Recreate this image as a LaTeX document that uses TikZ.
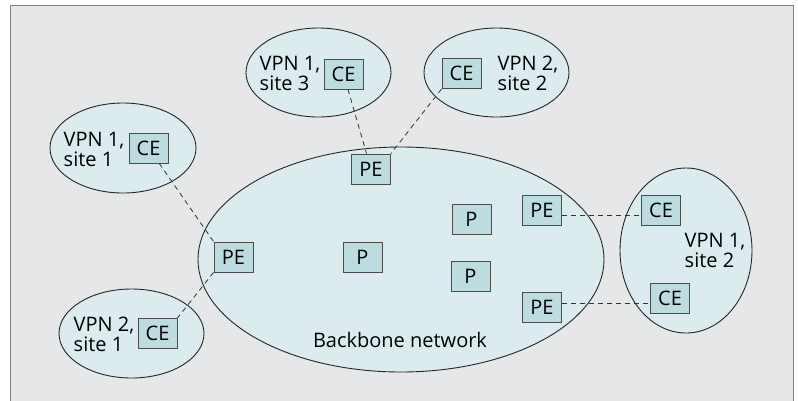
\documentclass[tikz,border=0pt]{standalone}
\usepackage{fontspec}
\setmainfont{Open Sans}
\usetikzlibrary{shapes.geometric, calc}

\definecolor{framegray}{HTML}{E6E7E8}
\definecolor{sitefill}{HTML}{DCEBEE}
\definecolor{boxfill}{HTML}{BCDCDF}

\begin{document}
\begin{tikzpicture}[x=1pt, y=-1pt,
    site/.style={ellipse, draw=black!85, line width=0.9pt, fill=sitefill, inner sep=0pt},
    dev/.style={draw=black!70, line width=0.8pt, fill=boxfill, minimum width=39pt,
                minimum height=30pt, inner sep=0pt, font=\fontsize{20}{20}\selectfont},
    lbl/.style={align=left, inner sep=0pt, font=\fontsize{20}{20}\selectfont},
    link/.style={dash pattern=on 5pt off 4pt, line width=0.8pt, draw=black!80}]
  \useasboundingbox (0,0) rectangle (798,400);
  \fill[white] (0,0) rectangle (798,400);

  % Frame
  \begin{scope}
    \clip (0,0) rectangle (798,400);
    \draw[draw=black!50, line width=1pt, fill=framegray] (10.5,5.5) rectangle (793.5,420);
  \end{scope}

  % Backbone and sites
  \node[site, minimum width=406pt, minimum height=225pt] (bb)  at (401,259.5) {};
  \node[site, minimum width=145pt, minimum height=89pt]  (s13) at (318.5,72.5) {};
  \node[site, minimum width=146pt, minimum height=90pt]  (s11) at (123,148) {};
  \node[site, minimum width=145pt, minimum height=89pt]  (s22) at (496.5,72.5) {};
  \node[site, minimum width=145pt, minimum height=89pt]  (s21) at (131.5,333.5) {};
  \node[site, minimum width=132pt, minimum height=165pt] (s12) at (686,250.5) {};

  % Routers
  \foreach \nm/\x/\y/\t in {ce13/343.5/74/CE, ce11/148.5/148/CE, ce22/461.5/73.5/CE,
      ce21/157.5/333.5/CE, petop/371/169/PE, pel/233.5/257/PE, p1/362.5/257/P,
      pu/471.5/219/P, pd/470.5/276/P, per1/542/210/PE, per2/542/307/PE,
      cer1/661/210/CE, cer2/670/298/CE} {
    \node[dev] (\nm) at (\x,\y) {\t};
  }

  % Site labels
  \node[lbl] (l13) at (290,73)  {VPN 1,\\site 3};
  \node[lbl] (l11) at (94,149)  {VPN 1,\\site 1};
  \node[lbl] (l22) at (528,73)  {VPN 2,\\site 2};
  \node[lbl] (l21) at (104,334) {VPN 2,\\site 1};
  \node[lbl] (l12) at (715,250) {VPN 1,\\site 2};
  \node[lbl] (lbb) at (400,340) {Backbone network};

  % Access links
  \coordinate (a1) at ($(per1.east)+(0,5)$);
  \coordinate (a2) at ($(per2.east)+(0,-4)$);
  \draw[link] (ce13) -- (petop);
  \draw[link] (ce22.south west) -- (petop.north east);
  \draw[link] (ce11) -- (pel.north west);
  \draw[link] (pel.south west) -- (ce21.north east);
  \draw[link] (a1) -- (a1 -| cer1.west);
  \draw[link] (a2) -- (a2 -| cer2.west);
\end{tikzpicture}
\end{document}
